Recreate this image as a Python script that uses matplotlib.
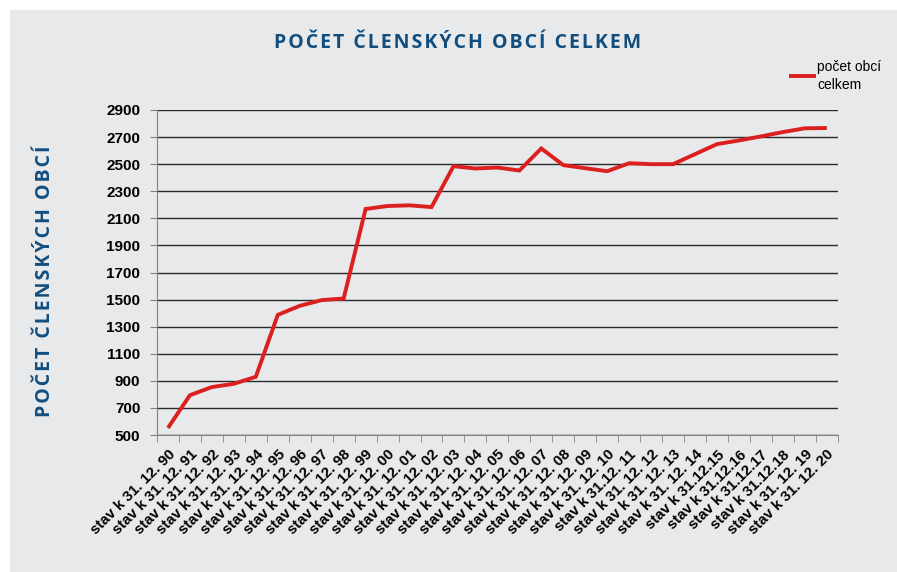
import matplotlib
matplotlib.use("Agg")
import matplotlib.pyplot as plt
from matplotlib.patches import Rectangle
import numpy as np

years = ["90", "91", "92", "93", "94", "95", "96", "97", "98", "99",
         "00", "01", "02", "03", "04", "05", "06", "07", "08", "09",
         "10", "11", "12", "13", "14", "15", "16", "17", "18", "19", "20"]
tick_labels = ["stav k 31. 12. " + y for y in years]
tick_labels[21] = "stav k 31.12. 11"
for i in (25, 26, 27, 28):
    tick_labels[i] = "stav k 31.12." + years[i]

pocet_obci = [552, 794, 854, 878, 930, 1387, 1454, 1496, 1508, 2169,
              2191, 2196, 2183, 2485, 2468, 2475, 2453, 2616, 2493, 2470,
              2448, 2507, 2500, 2500, 2574, 2648, 2675, 2705, 2737, 2765, 2767]

bg = "#E8E9EB"
blue = "#114E7E"
red = "#DC1F1F"


def spaced(s):
    # letter spacing via hair spaces
    return "\u200a".join(s)


fig = plt.figure(figsize=(8.97, 5.72), dpi=100)
fig.patch.set_facecolor("white")
fig.patches.append(Rectangle((10 / 897, 0), 1, 1 - 10 / 572, transform=fig.transFigure,
                             facecolor=bg, edgecolor="none", zorder=-10))

ax = fig.add_axes([0.175, 0.2395, 0.759, 0.5682])
ax.set_facecolor(bg)
x = np.arange(len(years))
ax.plot(x, pocet_obci, color=red, lw=2.8, solid_joinstyle="miter",
        solid_capstyle="butt", label="počet obcí\ncelkem", zorder=3)

ax.set_ylim(500, 2900)
ax.set_yticks(np.arange(500, 2901, 200))
ax.set_xlim(-0.5, len(years) - 0.5)
ax.set_xticks(x)
ax.set_xticks(np.arange(-0.5, len(years)), minor=True)
ax.set_xticklabels(tick_labels, rotation=45, ha="right", va="top",
                   rotation_mode="anchor", fontsize=10.8, fontweight="bold",
                   family="Liberation Sans")
ax.tick_params(axis="x", which="major", length=0, pad=9)
ax.tick_params(axis="x", which="minor", length=5, color="#808080")
ax.tick_params(axis="y", length=5, color="#808080", pad=7)
for lab in ax.get_yticklabels():
    lab.set_fontsize(11)
    lab.set_fontweight("bold")
    lab.set_family("Liberation Sans")
ax.grid(axis="y", color="#2a2a2a", lw=1)
ax.set_axisbelow(True)
for s in ("top", "right"):
    ax.spines[s].set_visible(False)
for s in ("left", "bottom"):
    ax.spines[s].set_color("#808080")

fig.text(0.51, 0.924, spaced("POČET ČLENSKÝCH OBCÍ CELKEM"), ha="center", va="center",
         fontsize=14, fontweight="bold", color=blue, family=["Open Sans", "DejaVu Sans"])
fig.text(0.05, 0.508, spaced("POČET ČLENSKÝCH OBCÍ"), rotation=90, ha="center", va="center",
         fontsize=14, fontweight="bold", color=blue, family=["Open Sans", "DejaVu Sans"])

leg = fig.legend(loc="upper left", bbox_to_anchor=(0.873, 0.905), frameon=False,
                 handlelength=2.0, handletextpad=0.05, borderaxespad=0,
                 prop={"family": "Liberation Sans", "size": 10})
for t in leg.get_texts():
    t.set_linespacing(1.35)

fig.savefig("out.png", dpi=100)
